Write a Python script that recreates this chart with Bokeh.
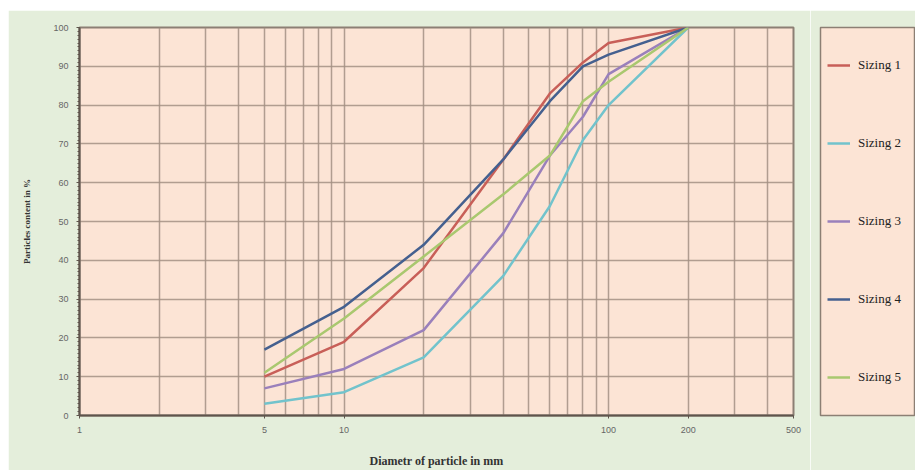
from bokeh.plotting import figure
from bokeh.layouts import row
from bokeh.models import (FixedTicker, SingleIntervalTicker, Legend, LegendItem,
                          NumeralTickFormatter)
from bokeh.embed import file_html
from bokeh.resources import INLINE

# Sieve sizes (mm) and cumulative passing (%) for each sizing
diameter = [5, 10, 20, 40, 60, 80, 100, 200]
sizing_1 = [10, 19, 38, 66, 83, 91, 96, 100]
sizing_2 = [3, 6, 15, 36, 54, 71, 80, 100]
sizing_3 = [7, 12, 22, 47, 67, 77, 88, 100]
sizing_4 = [17, 28, 44, 66, 81, 90, 93, 100]
sizing_5 = [11, 25, 41, 57, 67, 81, 86, 100]

series_names = ["Sizing 1", "Sizing 2", "Sizing 3", "Sizing 4", "Sizing 5"]
series_values = [sizing_1, sizing_2, sizing_3, sizing_4, sizing_5]
series_colors = ["#c85f58", "#72c3cc", "#9a80bb", "#45608f", "#a9c86f"]

x_tick_values = [1, 5, 10, 100, 200, 500]
x_grid_values = [m * d for d in (1, 10, 100) for m in range(1, 10) if m * d <= 500]

PEACH = "#fce4d5"
GREEN = "#e4eedb"
FRAME = "#8c7f74"
GRID = "#a39184"
AXIS = "#5e544c"

# main chart
p = figure(width=802, height=460, x_axis_type="log", x_range=(1, 500), y_range=(0, 100),
           output_backend="svg", toolbar_location=None,
           min_border_left=71, min_border_right=17, min_border_top=17, min_border_bottom=52)

p.background_fill_color = PEACH
p.border_fill_color = GREEN
p.outline_line_color = FRAME
p.outline_line_width = 2

p.xgrid.ticker = FixedTicker(ticks=x_grid_values)
for g in (p.xgrid, p.ygrid):
    g.grid_line_color = GRID
    g.grid_line_width = 1.5
    g.grid_line_alpha = 0.85

p.xaxis.ticker = FixedTicker(ticks=x_tick_values, minor_ticks=[])
p.xaxis.formatter = NumeralTickFormatter(format="0")
p.xaxis.axis_label = "Diametr of particle in mm"
p.xaxis.axis_label_text_font_size = "12px"
p.xaxis.axis_label_standoff = 18

p.yaxis.ticker = SingleIntervalTicker(interval=10, num_minor_ticks=10)
p.yaxis.axis_label = "Particles content in %"
p.yaxis.axis_label_text_font_size = "9px"
p.yaxis.axis_label_standoff = 18

for ax in (p.xaxis, p.yaxis):
    ax.axis_label_text_font = "Liberation Serif"
    ax.axis_label_text_font_style = "bold"
    ax.axis_label_text_color = "#333333"
    ax.axis_line_color = AXIS
    ax.axis_line_width = 2
    ax.major_tick_line_color = AXIS
    ax.major_tick_out = 3
    ax.major_tick_in = 0
    ax.minor_tick_line_color = AXIS
    ax.minor_tick_out = 2
    ax.minor_tick_in = 0
    ax.major_label_text_font = "Liberation Sans"
    ax.major_label_text_font_size = "9px"
    ax.major_label_text_color = "#666666"
    ax.major_label_standoff = 8

for vals, col in zip(series_values, series_colors):
    p.line(diameter, vals, line_color=col, line_width=2.5)

# legend panel beside the chart
lg = figure(width=105, height=460, x_range=(0, 1), y_range=(0, 1),
            output_backend="svg", toolbar_location=None,
            x_axis_location=None, y_axis_location=None,
            min_border_left=10, min_border_right=1, min_border_top=17, min_border_bottom=52)
lg.background_fill_color = PEACH
lg.border_fill_color = GREEN
lg.outline_line_color = FRAME
lg.outline_line_width = 1.5
lg.xgrid.visible = False
lg.ygrid.visible = False

# proxy renderers placed outside the visible range; they only supply legend glyphs
items = []
for name, col in zip(series_names, series_colors):
    r = lg.line(x=[5, 6], y=[5, 6], line_color=col, line_width=2.5)
    items.append(LegendItem(label=name, renderers=[r]))

legend = Legend(items=items, location="top_left", margin=0, padding=7,
                glyph_width=23, glyph_height=62, label_height=62,
                spacing=16, label_standoff=8,
                label_text_font="Liberation Serif", label_text_font_size="13px",
                label_text_color="#222222",
                background_fill_alpha=0, border_line_alpha=0)
lg.add_layout(legend)

layout = row(p, lg, spacing=0)
layout.margin = (10, 0, 0, 8)

open("out.html", "w").write(file_html(layout, INLINE))
